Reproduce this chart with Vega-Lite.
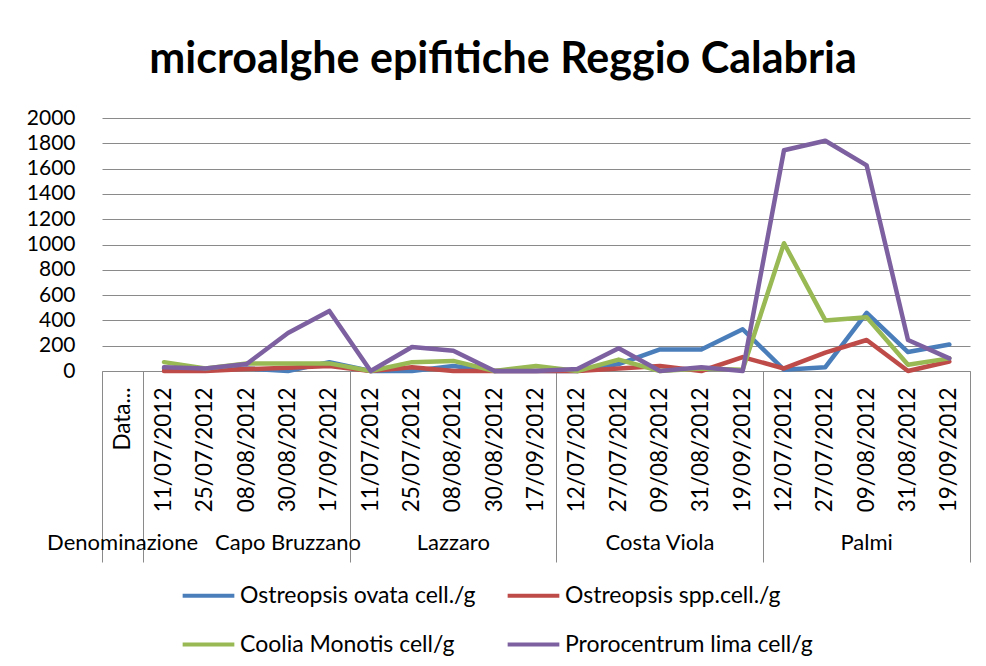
{
  "$schema": "https://vega.github.io/schema/vega-lite/v6.json",
  "autosize": "none",
  "width": 868,
  "height": 253,
  "padding": {"left": 102, "top": 118, "right": 16, "bottom": 295},
  "background": "white",
  "config": {
    "font": "Lato",
    "view": {"stroke": null},
    "axis": {"labelColor": "#000000", "labelFont": "Lato"},
    "legend": {"labelColor": "#000000", "labelFont": "Lato"}
  },
  "title": {
    "text": "microalghe epifitiche Reggio Calabria",
    "font": "Lato",
    "fontSize": 43,
    "fontWeight": "bold",
    "color": "#000000",
    "anchor": "middle",
    "dx": -33,
    "offset": 25
  },
  "data": {
    "values": [
      {"key": "Capo Bruzzano|11/07/2012", "species": "Ostreopsis ovata cell./g", "value": 20},
      {"key": "Capo Bruzzano|25/07/2012", "species": "Ostreopsis ovata cell./g", "value": 10},
      {"key": "Capo Bruzzano|08/08/2012", "species": "Ostreopsis ovata cell./g", "value": 20},
      {"key": "Capo Bruzzano|30/08/2012", "species": "Ostreopsis ovata cell./g", "value": 0},
      {"key": "Capo Bruzzano|17/09/2012", "species": "Ostreopsis ovata cell./g", "value": 70},
      {"key": "Lazzaro|11/07/2012", "species": "Ostreopsis ovata cell./g", "value": 0},
      {"key": "Lazzaro|25/07/2012", "species": "Ostreopsis ovata cell./g", "value": 0},
      {"key": "Lazzaro|08/08/2012", "species": "Ostreopsis ovata cell./g", "value": 40},
      {"key": "Lazzaro|30/08/2012", "species": "Ostreopsis ovata cell./g", "value": 0},
      {"key": "Lazzaro|17/09/2012", "species": "Ostreopsis ovata cell./g", "value": 0},
      {"key": "Costa Viola|12/07/2012", "species": "Ostreopsis ovata cell./g", "value": 0},
      {"key": "Costa Viola|27/07/2012", "species": "Ostreopsis ovata cell./g", "value": 55},
      {"key": "Costa Viola|09/08/2012", "species": "Ostreopsis ovata cell./g", "value": 170},
      {"key": "Costa Viola|31/08/2012", "species": "Ostreopsis ovata cell./g", "value": 170},
      {"key": "Costa Viola|19/09/2012", "species": "Ostreopsis ovata cell./g", "value": 330},
      {"key": "Palmi|12/07/2012", "species": "Ostreopsis ovata cell./g", "value": 10},
      {"key": "Palmi|27/07/2012", "species": "Ostreopsis ovata cell./g", "value": 30},
      {"key": "Palmi|09/08/2012", "species": "Ostreopsis ovata cell./g", "value": 460},
      {"key": "Palmi|31/08/2012", "species": "Ostreopsis ovata cell./g", "value": 150},
      {"key": "Palmi|19/09/2012", "species": "Ostreopsis ovata cell./g", "value": 210},

      {"key": "Capo Bruzzano|11/07/2012", "species": "Ostreopsis spp.cell./g", "value": 0},
      {"key": "Capo Bruzzano|25/07/2012", "species": "Ostreopsis spp.cell./g", "value": 0},
      {"key": "Capo Bruzzano|08/08/2012", "species": "Ostreopsis spp.cell./g", "value": 15},
      {"key": "Capo Bruzzano|30/08/2012", "species": "Ostreopsis spp.cell./g", "value": 25},
      {"key": "Capo Bruzzano|17/09/2012", "species": "Ostreopsis spp.cell./g", "value": 40},
      {"key": "Lazzaro|11/07/2012", "species": "Ostreopsis spp.cell./g", "value": 0},
      {"key": "Lazzaro|25/07/2012", "species": "Ostreopsis spp.cell./g", "value": 30},
      {"key": "Lazzaro|08/08/2012", "species": "Ostreopsis spp.cell./g", "value": 0},
      {"key": "Lazzaro|30/08/2012", "species": "Ostreopsis spp.cell./g", "value": 0},
      {"key": "Lazzaro|17/09/2012", "species": "Ostreopsis spp.cell./g", "value": 0},
      {"key": "Costa Viola|12/07/2012", "species": "Ostreopsis spp.cell./g", "value": 0},
      {"key": "Costa Viola|27/07/2012", "species": "Ostreopsis spp.cell./g", "value": 20},
      {"key": "Costa Viola|09/08/2012", "species": "Ostreopsis spp.cell./g", "value": 40},
      {"key": "Costa Viola|31/08/2012", "species": "Ostreopsis spp.cell./g", "value": 0},
      {"key": "Costa Viola|19/09/2012", "species": "Ostreopsis spp.cell./g", "value": 110},
      {"key": "Palmi|12/07/2012", "species": "Ostreopsis spp.cell./g", "value": 20},
      {"key": "Palmi|27/07/2012", "species": "Ostreopsis spp.cell./g", "value": 145},
      {"key": "Palmi|09/08/2012", "species": "Ostreopsis spp.cell./g", "value": 245},
      {"key": "Palmi|31/08/2012", "species": "Ostreopsis spp.cell./g", "value": 0},
      {"key": "Palmi|19/09/2012", "species": "Ostreopsis spp.cell./g", "value": 75},

      {"key": "Capo Bruzzano|11/07/2012", "species": "Coolia Monotis cell/g", "value": 70},
      {"key": "Capo Bruzzano|25/07/2012", "species": "Coolia Monotis cell/g", "value": 20},
      {"key": "Capo Bruzzano|08/08/2012", "species": "Coolia Monotis cell/g", "value": 60},
      {"key": "Capo Bruzzano|30/08/2012", "species": "Coolia Monotis cell/g", "value": 60},
      {"key": "Capo Bruzzano|17/09/2012", "species": "Coolia Monotis cell/g", "value": 60},
      {"key": "Lazzaro|11/07/2012", "species": "Coolia Monotis cell/g", "value": 0},
      {"key": "Lazzaro|25/07/2012", "species": "Coolia Monotis cell/g", "value": 70},
      {"key": "Lazzaro|08/08/2012", "species": "Coolia Monotis cell/g", "value": 80},
      {"key": "Lazzaro|30/08/2012", "species": "Coolia Monotis cell/g", "value": 0},
      {"key": "Lazzaro|17/09/2012", "species": "Coolia Monotis cell/g", "value": 40},
      {"key": "Costa Viola|12/07/2012", "species": "Coolia Monotis cell/g", "value": 0},
      {"key": "Costa Viola|27/07/2012", "species": "Coolia Monotis cell/g", "value": 90},
      {"key": "Costa Viola|09/08/2012", "species": "Coolia Monotis cell/g", "value": 0},
      {"key": "Costa Viola|31/08/2012", "species": "Coolia Monotis cell/g", "value": 20},
      {"key": "Costa Viola|19/09/2012", "species": "Coolia Monotis cell/g", "value": 10},
      {"key": "Palmi|12/07/2012", "species": "Coolia Monotis cell/g", "value": 1010},
      {"key": "Palmi|27/07/2012", "species": "Coolia Monotis cell/g", "value": 400},
      {"key": "Palmi|09/08/2012", "species": "Coolia Monotis cell/g", "value": 425},
      {"key": "Palmi|31/08/2012", "species": "Coolia Monotis cell/g", "value": 50},
      {"key": "Palmi|19/09/2012", "species": "Coolia Monotis cell/g", "value": 100},

      {"key": "Capo Bruzzano|11/07/2012", "species": "Prorocentrum lima cell/g", "value": 30},
      {"key": "Capo Bruzzano|25/07/2012", "species": "Prorocentrum lima cell/g", "value": 20},
      {"key": "Capo Bruzzano|08/08/2012", "species": "Prorocentrum lima cell/g", "value": 55},
      {"key": "Capo Bruzzano|30/08/2012", "species": "Prorocentrum lima cell/g", "value": 300},
      {"key": "Capo Bruzzano|17/09/2012", "species": "Prorocentrum lima cell/g", "value": 475},
      {"key": "Lazzaro|11/07/2012", "species": "Prorocentrum lima cell/g", "value": 0},
      {"key": "Lazzaro|25/07/2012", "species": "Prorocentrum lima cell/g", "value": 190},
      {"key": "Lazzaro|08/08/2012", "species": "Prorocentrum lima cell/g", "value": 160},
      {"key": "Lazzaro|30/08/2012", "species": "Prorocentrum lima cell/g", "value": 0},
      {"key": "Lazzaro|17/09/2012", "species": "Prorocentrum lima cell/g", "value": 0},
      {"key": "Costa Viola|12/07/2012", "species": "Prorocentrum lima cell/g", "value": 15},
      {"key": "Costa Viola|27/07/2012", "species": "Prorocentrum lima cell/g", "value": 180},
      {"key": "Costa Viola|09/08/2012", "species": "Prorocentrum lima cell/g", "value": 0},
      {"key": "Costa Viola|31/08/2012", "species": "Prorocentrum lima cell/g", "value": 30},
      {"key": "Costa Viola|19/09/2012", "species": "Prorocentrum lima cell/g", "value": 0},
      {"key": "Palmi|12/07/2012", "species": "Prorocentrum lima cell/g", "value": 1745},
      {"key": "Palmi|27/07/2012", "species": "Prorocentrum lima cell/g", "value": 1820},
      {"key": "Palmi|09/08/2012", "species": "Prorocentrum lima cell/g", "value": 1625},
      {"key": "Palmi|31/08/2012", "species": "Prorocentrum lima cell/g", "value": 245},
      {"key": "Palmi|19/09/2012", "species": "Prorocentrum lima cell/g", "value": 100}
    ]
  },
  "layer": [
    {
      "mark": {"type": "line", "strokeWidth": 4.5, "strokeCap": "round", "strokeJoin": "round"},
      "encoding": {
        "x": {
          "field": "key",
          "type": "ordinal",
          "bandPosition": 0.5,
          "scale": {
            "type": "band",
            "paddingInner": 0,
            "paddingOuter": 0,
            "domain": [
              "Denominazione|Data...",
              "Capo Bruzzano|11/07/2012", "Capo Bruzzano|25/07/2012", "Capo Bruzzano|08/08/2012", "Capo Bruzzano|30/08/2012", "Capo Bruzzano|17/09/2012",
              "Lazzaro|11/07/2012", "Lazzaro|25/07/2012", "Lazzaro|08/08/2012", "Lazzaro|30/08/2012", "Lazzaro|17/09/2012",
              "Costa Viola|12/07/2012", "Costa Viola|27/07/2012", "Costa Viola|09/08/2012", "Costa Viola|31/08/2012", "Costa Viola|19/09/2012",
              "Palmi|12/07/2012", "Palmi|27/07/2012", "Palmi|09/08/2012", "Palmi|31/08/2012", "Palmi|19/09/2012"
            ]
          },
          "axis": {
            "orient": "bottom",
            "title": null,
            "labelExpr": "split(datum.value, '|')[1]",
            "labelAngle": 270,
            "labelAlign": "right",
            "labelBaseline": "middle",
            "labelFontSize": 22.5,
            "labelPadding": 16,
            "labelOverlap": false,
            "ticks": false,
            "grid": false,
            "domain": true,
            "domainColor": "#8a8a8a",
            "domainWidth": 1
          }
        },
        "y": {
          "field": "value",
          "type": "quantitative",
          "scale": {"domain": [0, 2000], "nice": false},
          "axis": {
            "title": null,
            "format": "d",
            "values": [0, 200, 400, 600, 800, 1000, 1200, 1400, 1600, 1800, 2000],
            "grid": true,
            "gridColor": "#8a8a8a",
            "gridWidth": 1,
            "domain": false,
            "ticks": false,
            "labelFontSize": 21,
            "labelPadding": 27
          }
        },
        "color": {
          "field": "species",
          "type": "nominal",
          "scale": {
            "domain": ["Ostreopsis ovata cell./g", "Ostreopsis spp.cell./g", "Coolia Monotis cell/g", "Prorocentrum lima cell/g"],
            "range": ["#4A7EBB", "#BE4B48", "#98B954", "#7D60A0"]
          },
          "legend": {
            "title": null,
            "orient": "none",
            "legendX": 81,
            "legendY": 452,
            "direction": "horizontal",
            "columns": 2,
            "columnPadding": 23,
            "rowPadding": 11,
            "symbolType": "M-1.1,0H1.1",
            "symbolSize": 2209,
            "symbolStrokeWidth": 4,
            "labelFontSize": 23,
            "labelOffset": 6,
            "labelLimit": 400
          }
        }
      }
    },
    {
      "mark": {"type": "point", "opacity": 0},
      "encoding": {
        "x": {
          "field": "key",
          "type": "ordinal",
          "scale": {
            "type": "band",
            "paddingInner": 0,
            "paddingOuter": 0,
            "domain": [
              "Denominazione|Data...",
              "Capo Bruzzano|11/07/2012", "Capo Bruzzano|25/07/2012", "Capo Bruzzano|08/08/2012", "Capo Bruzzano|30/08/2012", "Capo Bruzzano|17/09/2012",
              "Lazzaro|11/07/2012", "Lazzaro|25/07/2012", "Lazzaro|08/08/2012", "Lazzaro|30/08/2012", "Lazzaro|17/09/2012",
              "Costa Viola|12/07/2012", "Costa Viola|27/07/2012", "Costa Viola|09/08/2012", "Costa Viola|31/08/2012", "Costa Viola|19/09/2012",
              "Palmi|12/07/2012", "Palmi|27/07/2012", "Palmi|09/08/2012", "Palmi|31/08/2012", "Palmi|19/09/2012"
            ]
          },
          "axis": {
            "orient": "bottom",
            "title": null,
            "values": ["Denominazione|Data...", "Capo Bruzzano|17/09/2012", "Lazzaro|17/09/2012", "Costa Viola|19/09/2012", "Palmi|19/09/2012"],
            "bandPosition": 1,
            "tickExtra": true,
            "ticks": true,
            "tickSize": 191,
            "tickColor": "#8a8a8a",
            "tickWidth": 1,
            "labels": false,
            "domain": false,
            "grid": false
          }
        }
      }
    },
    {
      "mark": {"type": "point", "opacity": 0},
      "encoding": {
        "x": {
          "field": "key",
          "type": "ordinal",
          "scale": {
            "type": "band",
            "paddingInner": 0,
            "paddingOuter": 0,
            "domain": [
              "Denominazione|Data...",
              "Capo Bruzzano|11/07/2012", "Capo Bruzzano|25/07/2012", "Capo Bruzzano|08/08/2012", "Capo Bruzzano|30/08/2012", "Capo Bruzzano|17/09/2012",
              "Lazzaro|11/07/2012", "Lazzaro|25/07/2012", "Lazzaro|08/08/2012", "Lazzaro|30/08/2012", "Lazzaro|17/09/2012",
              "Costa Viola|12/07/2012", "Costa Viola|27/07/2012", "Costa Viola|09/08/2012", "Costa Viola|31/08/2012", "Costa Viola|19/09/2012",
              "Palmi|12/07/2012", "Palmi|27/07/2012", "Palmi|09/08/2012", "Palmi|31/08/2012", "Palmi|19/09/2012"
            ]
          },
          "axis": {
            "orient": "bottom",
            "title": null,
            "values": ["Denominazione|Data...", "Capo Bruzzano|30/08/2012", "Lazzaro|08/08/2012", "Costa Viola|09/08/2012", "Palmi|09/08/2012"],
            "labelExpr": "split(datum.value, '|')[0]",
            "labelAngle": 0,
            "labelFontSize": 22,
            "labelPadding": 161,
            "labelOverlap": false,
            "labelBound": false,
            "labelFlush": false,
            "ticks": false,
            "labels": true,
            "domain": false,
            "grid": false
          }
        }
      }
    }
  ],
  "resolve": {"axis": {"x": "independent"}}
}
